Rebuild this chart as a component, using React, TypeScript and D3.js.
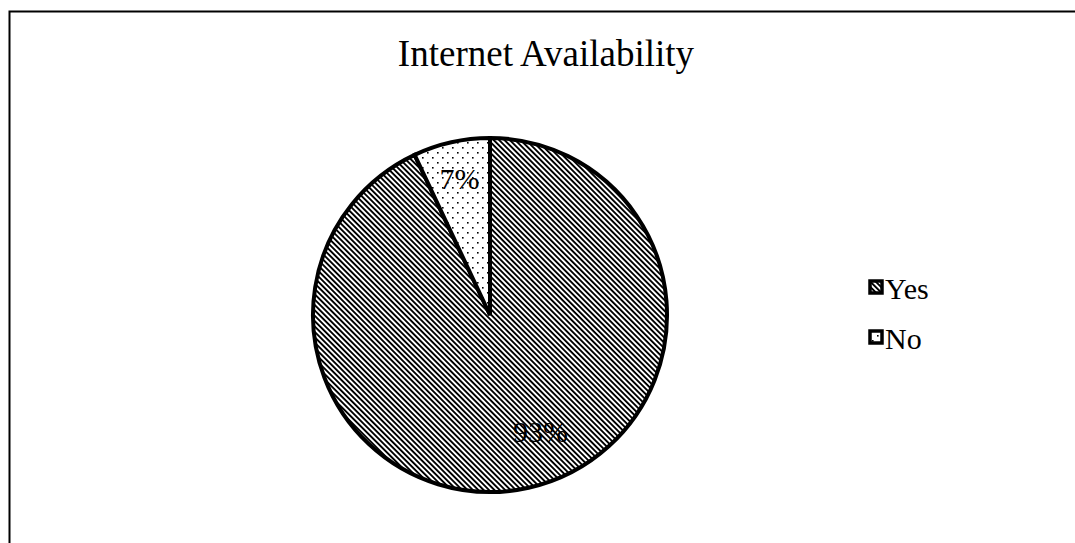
import React, { useEffect, useRef } from "react";
import * as d3 from "d3";

// Survey answers: share of respondents with internet access
const categories = ["Yes", "No"];
const shares = [93, 7];
const labels = ["93%", "7%"];
const chartTitle = "Internet Availability";

const WIDTH = 1075;
const HEIGHT = 543;

type Row = { cat: string; value: number; label: string };

export default function App() {
  const ref = useRef<SVGSVGElement | null>(null);

  useEffect(() => {
    const svg = d3.select(ref.current);
    svg.selectAll("*").remove();

    const font = "'Liberation Serif', 'Times New Roman', serif";
    const defs = svg.append("defs");

    // downward diagonal hatch
    const hatch = defs
      .append("pattern")
      .attr("id", "hatch")
      .attr("patternUnits", "userSpaceOnUse")
      .attr("width", 3.8)
      .attr("height", 3.8)
      .attr("patternTransform", "rotate(-45)");
    hatch.append("rect").attr("width", 3.8).attr("height", 3.8).attr("fill", "#fff");
    hatch.append("rect").attr("x", 0).attr("width", 1.9).attr("height", 3.8).attr("fill", "#000");

    // sparse dots
    const dots = defs
      .append("pattern")
      .attr("id", "dots")
      .attr("patternUnits", "userSpaceOnUse")
      .attr("width", 10)
      .attr("height", 10);
    dots.append("rect").attr("width", 10).attr("height", 10).attr("fill", "#fff");
    dots.append("rect").attr("x", 2).attr("y", 2).attr("width", 1.6).attr("height", 1.6).attr("fill", "#000");
    dots.append("rect").attr("x", 7).attr("y", 7).attr("width", 1.6).attr("height", 1.6).attr("fill", "#000");

    const fills = d3.scaleOrdinal<string, string>().domain(categories).range(["url(#hatch)", "url(#dots)"]);

    // chart frame
    svg
      .append("rect")
      .attr("x", 9.5)
      .attr("y", 11.5)
      .attr("width", WIDTH + 20)
      .attr("height", HEIGHT + 20)
      .attr("fill", "#fff")
      .attr("stroke", "#000")
      .attr("stroke-width", 2);

    svg
      .append("text")
      .attr("x", 546)
      .attr("y", 66)
      .attr("text-anchor", "middle")
      .attr("font-family", font)
      .attr("font-size", 37)
      .attr("fill", "#000")
      .text(chartTitle);

    const cx = 490;
    const cy = 315;
    const r = 177;

    const data: Row[] = categories.map((c, i) => ({ cat: c, value: shares[i], label: labels[i] }));
    const pie = d3
      .pie<Row>()
      .sort(null)
      .value((d) => d.value);
    const arcs = pie(data);
    const arc = d3.arc<d3.PieArcDatum<Row>>().innerRadius(0).outerRadius(r);

    const g = svg.append("g").attr("transform", `translate(${cx},${cy})`);
    g.selectAll("path.slice")
      .data(arcs)
      .join("path")
      .attr("class", "slice")
      .attr("d", arc)
      .attr("fill", (d) => fills(d.data.cat))
      .attr("stroke", "#000")
      .attr("stroke-width", 4)
      .attr("stroke-linejoin", "miter");

    // labels sit on a ring inside the pie; the large slice's label is eased toward its side
    const labelArc = d3.arc<d3.PieArcDatum<Row>>().innerRadius(r * 0.79).outerRadius(r * 0.79);
    const nudge: Record<string, [number, number]> = { Yes: [20, -20], No: [0, 0] };
    g.selectAll("text.lbl")
      .data(arcs)
      .join("text")
      .attr("class", "lbl")
      .attr("transform", (d) => {
        const [x, y] = labelArc.centroid(d);
        const [nx, ny] = nudge[d.data.cat];
        return `translate(${x + nx},${y + ny})`;
      })
      .attr("text-anchor", "middle")
      .attr("dy", "0.35em")
      .attr("font-family", font)
      .attr("font-size", 30)
      .attr("fill", "#000")
      .text((d) => d.data.label);

    // legend
    const legend = svg.append("g").attr("transform", "translate(870,288)");
    const item = legend
      .selectAll("g.item")
      .data(categories)
      .join("g")
      .attr("class", "item")
      .attr("transform", (_d, i) => `translate(0,${i * 50})`);
    item
      .append("rect")
      .attr("x", 0)
      .attr("y", -7)
      .attr("width", 12)
      .attr("height", 12)
      .attr("fill", (d) => fills(d))
      .attr("stroke", "#000")
      .attr("stroke-width", 3.5);
    item
      .append("text")
      .attr("x", 15)
      .attr("y", 0)
      .attr("dy", "0.35em")
      .attr("font-family", font)
      .attr("font-size", 30)
      .attr("fill", "#000")
      .text((d) => d);
  }, []);

  return (
    <svg
      ref={ref}
      width={WIDTH}
      height={HEIGHT}
      style={{ display: "block", position: "absolute", left: 0, top: 0 }}
    />
  );
}
